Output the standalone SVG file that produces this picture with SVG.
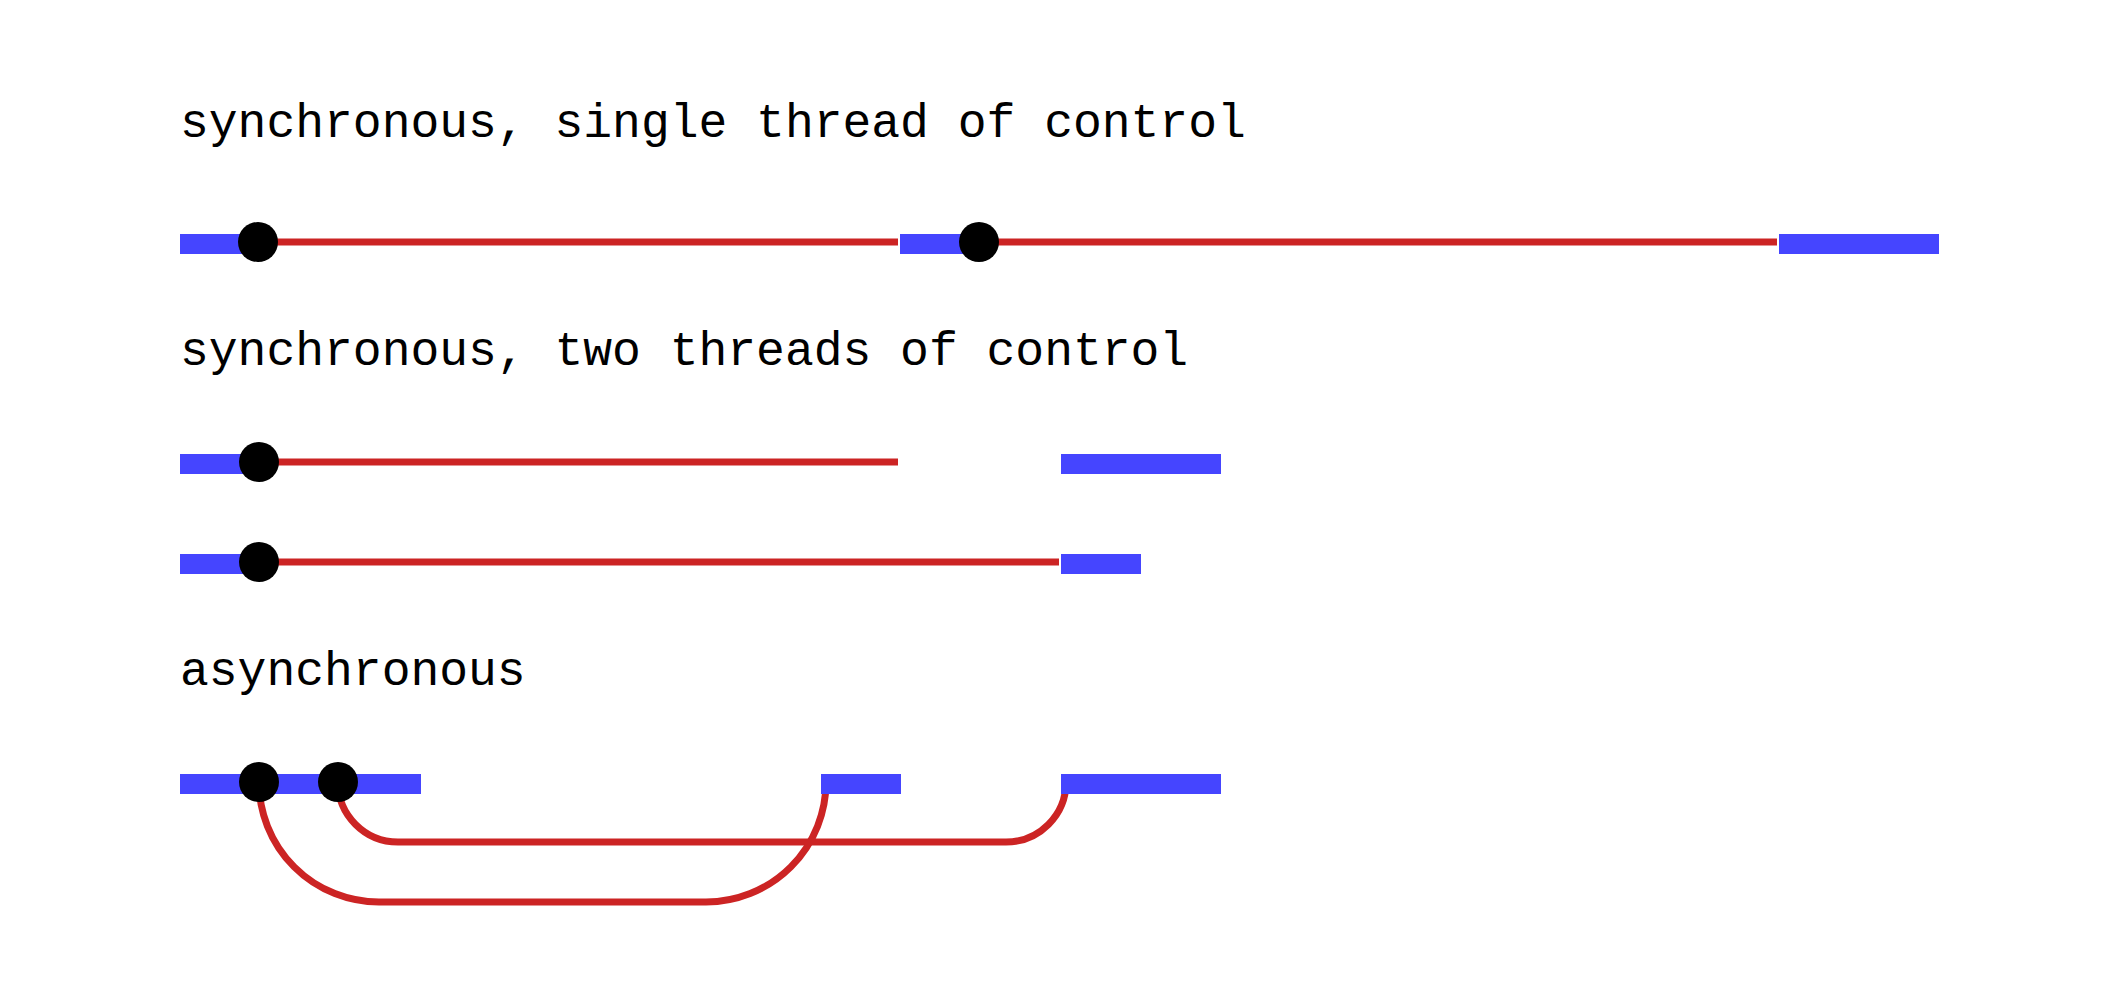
<svg xmlns="http://www.w3.org/2000/svg" width="2120" height="1001" viewBox="0 0 2120 1001">
<style>
.lbl{font-family:"Liberation Mono","DejaVu Sans Mono",monospace;font-size:48px;fill:#000}
.bar{fill:#4545ff}
.ctl{fill:none;stroke:#cc2424;stroke-width:7}
.dot{fill:#000}
</style>
<rect width="2120" height="1001" fill="#fff"/>
<g id="labels">
<text class="lbl" x="180" y="137">synchronous, single thread of control</text>
<text class="lbl" x="180" y="365">synchronous, two threads of control</text>
<text class="lbl" x="180" y="685">asynchronous</text>
</g>
<g id="connectors">
<path class="ctl" d="M259 242H898"/>
<path class="ctl" d="M979 242H1777"/>
<path class="ctl" d="M259 462H898"/>
<path class="ctl" d="M259 562H1059"/>
<path class="ctl" d="M259 782A120 120 0 0 0 379 902H706A120 120 0 0 0 826 782"/>
<path class="ctl" d="M338 782A60 60 0 0 0 398 842H1006A60 60 0 0 0 1066 782"/>
</g>
<g id="bars">
<rect class="bar" x="180" y="234" width="79" height="20"/>
<rect class="bar" x="900" y="234" width="79" height="20"/>
<rect class="bar" x="1779" y="234" width="160" height="20"/>
<rect class="bar" x="180" y="454" width="79" height="20"/>
<rect class="bar" x="1061" y="454" width="160" height="20"/>
<rect class="bar" x="180" y="554" width="79" height="20"/>
<rect class="bar" x="1061" y="554" width="80" height="20"/>
<rect class="bar" x="180" y="774" width="241" height="20"/>
<rect class="bar" x="821" y="774" width="80" height="20"/>
<rect class="bar" x="1061" y="774" width="160" height="20"/>
</g>
<g id="dots">
<circle class="dot" cx="258" cy="242" r="20"/>
<circle class="dot" cx="979" cy="242" r="20"/>
<circle class="dot" cx="259" cy="462" r="20"/>
<circle class="dot" cx="259" cy="562" r="20"/>
<circle class="dot" cx="259" cy="782" r="20"/>
<circle class="dot" cx="338" cy="782" r="20"/>
</g>
</svg>
